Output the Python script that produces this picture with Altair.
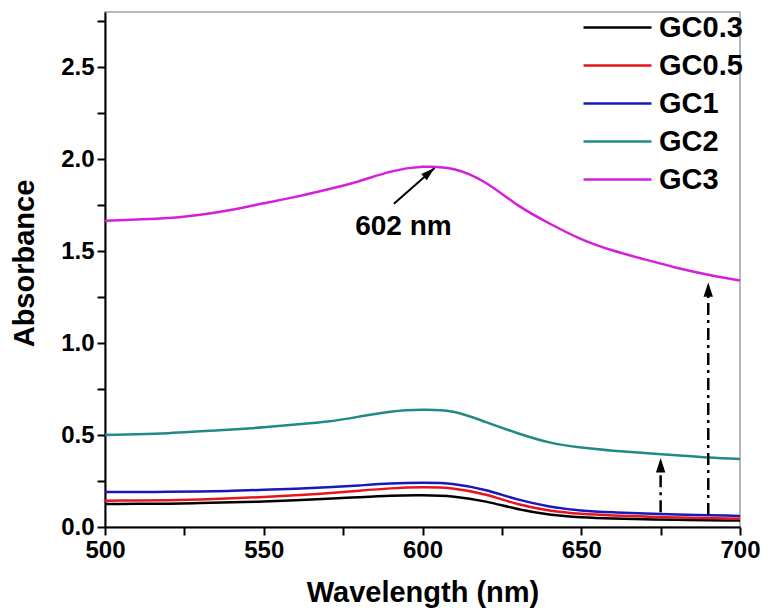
import altair as alt
import pandas as pd

# ---- data ----
wavelength = [500, 510, 520, 530, 540, 550, 560, 570, 580, 590, 600,
              610, 620, 630, 640, 650, 660, 670, 680, 690, 700]
series_names = ["GC0.3", "GC0.5", "GC1", "GC2", "GC3"]
series_colors = ["#000000", "#e8141c", "#1818bc", "#1f8a86", "#d41fdc"]

gc03 = [0.125, 0.126, 0.127, 0.130, 0.134, 0.139, 0.145, 0.153, 0.162, 0.170, 0.172,
        0.165, 0.138, 0.098, 0.068, 0.053, 0.046, 0.042, 0.039, 0.037, 0.035]
gc05 = [0.143, 0.144, 0.146, 0.150, 0.156, 0.163, 0.172, 0.183, 0.197, 0.210, 0.216,
        0.208, 0.175, 0.125, 0.090, 0.072, 0.063, 0.057, 0.052, 0.048, 0.045]
gc1 = [0.190, 0.190, 0.191, 0.193, 0.197, 0.202, 0.208, 0.216, 0.226, 0.236, 0.240,
       0.233, 0.200, 0.150, 0.112, 0.090, 0.080, 0.073, 0.068, 0.064, 0.060]
gc2 = [0.500, 0.504, 0.510, 0.520, 0.530, 0.542, 0.557, 0.573, 0.600, 0.627, 0.637,
       0.625, 0.570, 0.510, 0.460, 0.432, 0.415, 0.402, 0.390, 0.378, 0.370]
gc3 = [1.665, 1.672, 1.680, 1.698, 1.725, 1.760, 1.795, 1.835, 1.880, 1.932, 1.958,
       1.945, 1.870, 1.750, 1.650, 1.565, 1.503, 1.455, 1.410, 1.372, 1.340]

x_ticks = [500, 525, 550, 575, 600, 625, 650, 675, 700]
y_ticks = [0.0, 0.25, 0.5, 0.75, 1.0, 1.25, 1.5, 1.75, 2.0, 2.25, 2.5, 2.75]

# annotations
peak_label = ["602 nm"]
peak_label_x = [594.0]
peak_label_y = [1.63]
peak_arrow_x = [591.0]
peak_arrow_y = [1.758]
peak_arrow_x2 = [603.8]
peak_arrow_y2 = [1.952]
peak_arrow_angle = [49]

vert_arrow_x = [675, 690]
vert_arrow_y = [0.08, 0.065]
vert_arrow_y2 = [0.30, 1.26]
vert_arrow_tip = [0.375, 1.33]

# ---- tables ----
rows = []
for name, vals in zip(series_names, [gc03, gc05, gc1, gc2, gc3]):
    for w, v in zip(wavelength, vals):
        rows.append({"wavelength": w, "absorbance": v, "sample": name})
df = pd.DataFrame(rows)

peak_df = pd.DataFrame({"x": peak_arrow_x, "y": peak_arrow_y, "x2": peak_arrow_x2,
                        "y2": peak_arrow_y2, "angle": peak_arrow_angle,
                        "lx": peak_label_x, "ly": peak_label_y, "label": peak_label})
vert_df = pd.DataFrame({"x": vert_arrow_x, "y": vert_arrow_y, "y2": vert_arrow_y2,
                        "tip": vert_arrow_tip})

FONT = "Liberation Sans"
xscale = alt.Scale(domain=[500, 700], nice=False, zero=False)
yscale = alt.Scale(domain=[0, 2.8], nice=False)

xenc = alt.X("wavelength:Q", scale=xscale, axis=alt.Axis(
    title="Wavelength (nm)", values=x_ticks,
    labelExpr="datum.value % 50 == 0 ? datum.label : ''",
    titleY=74, titleBaseline="alphabetic"))
yenc = alt.Y("absorbance:Q", scale=yscale, axis=alt.Axis(
    title="Absorbance", values=y_ticks,
    labelExpr="(datum.value * 2) % 1 == 0 ? format(datum.value, '.1f') : ''",
    titleX=-72, titleY=251, titleBaseline="alphabetic", titleAngle=270))

lines = alt.Chart(df).mark_line(strokeWidth=2.5, interpolate="natural").encode(
    x=xenc, y=yenc,
    color=alt.Color("sample:N", sort=series_names,
                    scale=alt.Scale(domain=series_names, range=series_colors),
                    legend=alt.Legend(
                        title=None, orient="none", legendX=498, legendY=1,
                        symbolType="M-3,0L3,0", symbolSize=514, symbolStrokeWidth=2.5,
                        labelFont=FONT, labelFontSize=29, labelFontWeight="bold",
                        labelColor="#000000", labelOffset=27, rowPadding=8,
                        padding=0)),
    order=alt.Order("sample:N"),
)

peak_line = alt.Chart(peak_df).mark_rule(color="black", strokeWidth=2).encode(
    x=alt.X("x:Q", scale=xscale), y=alt.Y("y:Q", scale=yscale),
    x2="x2:Q", y2="y2:Q")
peak_head = alt.Chart(peak_df).mark_point(
    shape="M0,0L-0.6,2L0.6,2Z", filled=True, color="black", opacity=1, size=196).encode(
    x=alt.X("x2:Q", scale=xscale), y=alt.Y("y2:Q", scale=yscale),
    angle=alt.Angle("angle:Q", scale=None))
peak_text = alt.Chart(peak_df).mark_text(
    font=FONT, fontSize=28, fontWeight="bold", color="black").encode(
    x=alt.X("lx:Q", scale=xscale), y=alt.Y("ly:Q", scale=yscale), text="label:N")

vert_line = alt.Chart(vert_df).mark_rule(
    color="black", strokeWidth=2.5, strokeDash=[12, 5, 3, 5]).encode(
    x=alt.X("x:Q", scale=xscale), y=alt.Y("y:Q", scale=yscale), y2="y2:Q")
vert_head = alt.Chart(vert_df).mark_point(
    shape="M0,0L-0.65,2L0.65,2Z", filled=True, color="black", opacity=1, size=210).encode(
    x=alt.X("x:Q", scale=xscale), y=alt.Y("tip:Q", scale=yscale))

chart = alt.layer(lines, vert_line, vert_head, peak_line, peak_head, peak_text).properties(
    width=635, height=515,
    background="white",
    autosize=alt.AutoSizeParams(type="none"),
    padding={"left": 97, "top": 4, "right": 21, "bottom": 81},
).configure_view(
    stroke="#a0a0a0", strokeWidth=1.5
).configure_axis(
    labelFont=FONT, labelFontSize=24, labelFontWeight="bold", labelColor="black",
    titleFont=FONT, titleFontSize=29, titleFontWeight="bold", titleColor="black",
    domainColor="black", domainWidth=2, tickColor="black", tickWidth=2, tickSize=8,
    labelPadding=3, grid=False, labelFlush=False, labelOverlap=False
)

chart.save("out.html", embed_options={"renderer": "svg", "actions": False})
